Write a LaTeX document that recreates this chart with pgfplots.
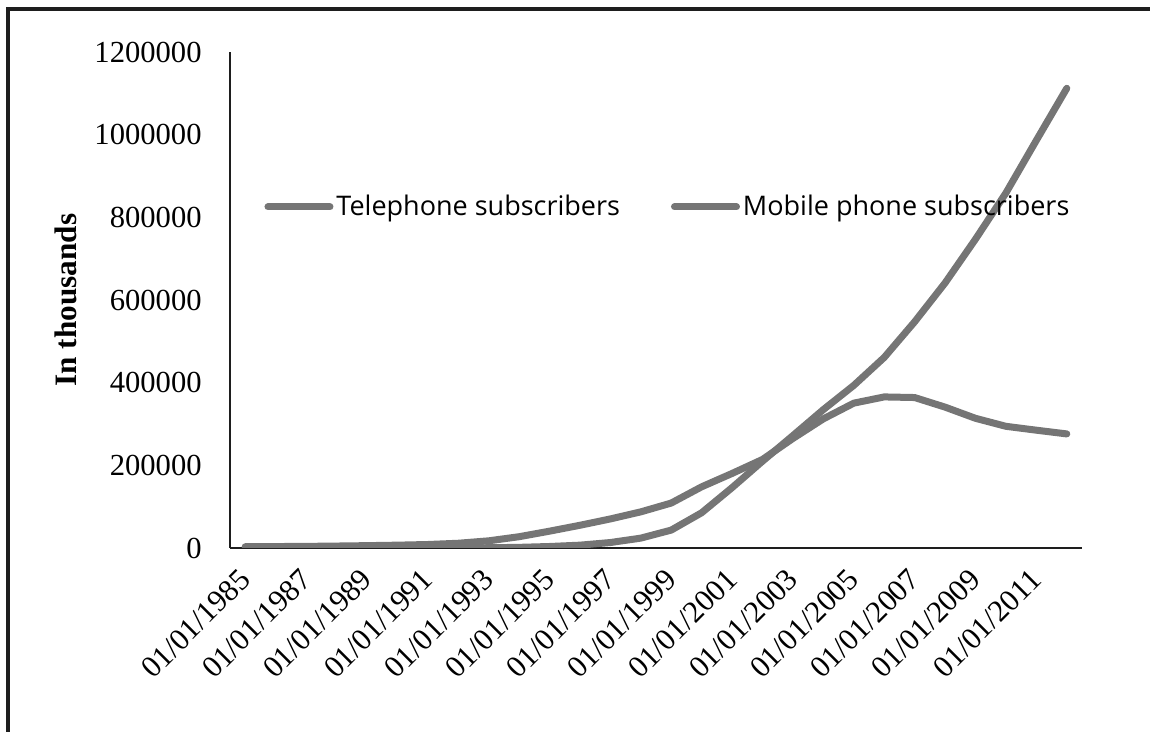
\documentclass[border=0pt]{standalone}
\usepackage{pgfplots}
\pgfplotsset{compat=1.18}
\usepackage{fontspec}
\setmainfont{Liberation Serif}
\newfontfamily\legfont{Open Sans}
\definecolor{linegray}{RGB}{117,117,117}
\definecolor{axisdark}{RGB}{30,30,30}
\begin{document}
\begin{tikzpicture}
\useasboundingbox (0,0) rectangle (575pt,366pt);
\draw[line width=2pt, color=axisdark] (3.75pt,-5pt) -- (3.75pt,361.5pt) -- (580pt,361.5pt);
\begin{axis}[
  at={(115pt,92pt)}, anchor=south west,
  scale only axis, width=426pt, height=248pt,
  xmin=-0.5, xmax=27.5, ymin=0, ymax=1200000,
  axis x line=bottom, axis y line=left,
  axis line style={-, line width=1pt, color=axisdark},
  major tick length=0pt,
  xtick={0,2,...,26},
  xticklabels={01/01/1985,01/01/1987,01/01/1989,01/01/1991,01/01/1993,01/01/1995,01/01/1997,01/01/1999,01/01/2001,01/01/2003,01/01/2005,01/01/2007,01/01/2009,01/01/2011},
  ytick={0,200000,...,1200000},
  scaled y ticks=false,
  /pgf/number format/.cd, fixed, 1000 sep={}, assume math mode=true,
  /pgfplots/.cd,
  ticklabel style={font=\fontsize{15.3pt}{18pt}\selectfont},
  yticklabel style={inner sep=0pt, xshift=-14pt},
  xticklabel style={inner sep=0pt, yshift=-13pt, rotate=45, anchor=east},
  ylabel={In thousands},
  ylabel style={font=\bfseries\fontsize{15.6pt}{18pt}\selectfont, at={(axis description cs:-0.1925,0.5)}, anchor=center},
  legend columns=2,
  legend style={draw=none, fill=none, inner sep=0pt, at={(axis description cs:0.04,0.6875)}, anchor=west,
    font=\legfont\fontsize{13.5pt}{16pt}\selectfont,
    /tikz/every even column/.append style={column sep=24pt},
    nodes={inner sep=1.5pt}},
  legend image code/.code={\draw[#1, line width=3.5pt, line cap=round] (0pt,0pt) -- (31pt,0pt);},
]
\addplot[color=linegray, line width=3.5pt, line join=round, line cap=round] coordinates {
(0,3120) (1,3500) (2,3907) (3,4727) (4,5680) (5,6850) (6,8451) (7,11469) (8,17332) (9,27295)
(10,40706) (11,54947) (12,70310) (13,87421) (14,108716) (15,148000) (16,180368) (17,214222) (18,265000) (19,312443)
(20,350445) (21,365500) (22,364000) (23,340806) (24,313732) (25,294383) (26,284987) (27,276000)
};
\addlegendentry{Telephone subscribers}
\addplot[color=linegray, line width=3.5pt, line join=round, line cap=round] coordinates {
(0,0) (1,0) (2,3) (3,3) (4,10) (5,18) (6,48) (7,177) (8,638) (9,1568)
(10,3629) (11,6853) (12,13233) (13,23863) (14,43296) (15,85260) (16,146000) (17,210000) (18,272000) (19,334824)
(20,393406) (21,461058) (22,547286) (23,641245) (24,747214) (25,859003) (26,986253) (27,1112155)
};
\addlegendentry{Mobile phone subscribers}
\end{axis}
\end{tikzpicture}
\end{document}
